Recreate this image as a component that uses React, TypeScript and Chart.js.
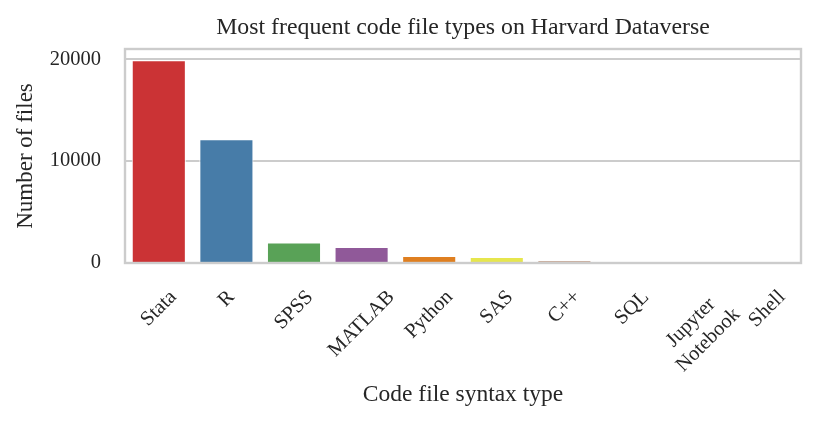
import React, { useEffect, useRef } from "react";
import { Chart, registerables } from "chart.js";

Chart.register(...registerables);

const categories = ["Stata", "R", "SPSS", "MATLAB", "Python", "SAS", "C++", "SQL", "Jupyter\nNotebook", "Shell"];
const fileCounts = [19900, 12150, 2000, 1580, 690, 590, 200, 60, 40, 30];
const barColors = ["#cb3335", "#477ca8", "#59a257", "#905999", "#df7f20", "#e6e64d", "#965a38", "#e890be", "#999999", "#cb3335"];
const yTickValues = [0, 10000, 20000];
const yMax = 21000;

const chartTitle = "Most frequent code file types on Harvard Dataverse";
const xTitle = "Code file syntax type";
const yTitle = "Number of files";

const FONT = '"Liberation Serif", "Times New Roman", Times, serif';
const TEXT = "#262626";
const GRID = "#cccccc";

const overlayPlugin = {
  id: "overlay",
  afterDatasetsDraw(chart: any) {
    const { ctx, chartArea } = chart;
    ctx.save();
    ctx.strokeStyle = GRID;
    ctx.lineWidth = 2.4;
    ctx.strokeRect(chartArea.left, chartArea.top, chartArea.right - chartArea.left, chartArea.bottom - chartArea.top);
    ctx.restore();
  },
  afterDraw(chart: any) {
    const { ctx, chartArea } = chart;
    const xs = chart.scales.x;
    ctx.save();
    ctx.fillStyle = TEXT;
    // title
    ctx.font = `23.8px ${FONT}`;
    ctx.textAlign = "center";
    ctx.textBaseline = "middle";
    ctx.fillText(chartTitle, (chartArea.left + chartArea.right) / 2, 28);
    // rotated x tick labels (centered rotated bbox, top aligned)
    const size = 20.5;
    ctx.font = `${size}px ${FONT}`;
    const lh = size * 1.2;
    const c = Math.SQRT1_2;
    const labelTop = xs.top + 23;
    categories.forEach((lab, i) => {
      const lines = lab.split("\n");
      const w = Math.max(...lines.map((l) => ctx.measureText(l).width));
      const h = (lines.length - 1) * lh + size * 1.107;
      const cx = xs.getPixelForValue(i);
      const cy = labelTop + ((w + h) * c) / 2;
      ctx.save();
      ctx.translate(cx, cy);
      ctx.rotate(-Math.PI / 4);
      lines.forEach((l, j) => {
        ctx.fillText(l, 0, (j - (lines.length - 1) / 2) * lh);
      });
      ctx.restore();
    });
    ctx.restore();
  },
};

export default function App() {
  const ref = useRef<HTMLCanvasElement>(null);
  useEffect(() => {
    if (!ref.current) return;
    const chart = new Chart(ref.current, {
      type: "bar",
      data: {
        labels: categories,
        datasets: [
          {
            data: fileCounts,
            backgroundColor: barColors,
            borderColor: "#ffffff",
            borderWidth: 1,
            borderSkipped: "bottom",
            barPercentage: 0.8,
            categoryPercentage: 1,
          },
        ],
      },
      options: {
        animation: false,
        responsive: true,
        maintainAspectRatio: false,
        layout: { padding: { top: 49, right: 30, left: 0, bottom: 0 }, autoPadding: false },
        plugins: { legend: { display: false }, title: { display: false }, tooltip: { enabled: false } },
        scales: {
          x: {
            grid: { display: false, drawTicks: false },
            border: { display: false },
            ticks: { display: false },
            title: {
              display: true,
              text: xTitle,
              color: TEXT,
              font: { family: FONT, size: 23.5 },
              padding: { top: 0, bottom: 16 },
            },
            afterFit(scale: any) {
              scale.height = 162;
            },
          },
          y: {
            min: 0,
            max: yMax,
            grid: { color: GRID, lineWidth: 2, drawTicks: false },
            border: { display: false },
            afterBuildTicks(scale: any) {
              scale.ticks = yTickValues.map((v) => ({ value: v }));
            },
            ticks: {
              color: TEXT,
              font: { family: FONT, size: 20.5 },
              padding: 24,
              callback: (v: any) => String(v),
            },
            title: {
              display: true,
              text: yTitle,
              color: TEXT,
              font: { family: FONT, size: 23 },
              padding: { top: 12.5, bottom: 0 },
            },
            afterFit(scale: any) {
              scale.width = 125;
            },
          },
        },
      },
      plugins: [overlayPlugin],
    });
    return () => chart.destroy();
  }, []);
  return (
    <div style={{ position: "absolute", left: 0, top: 0, width: 831, height: 425, background: "#fff" }}>
      <canvas ref={ref} />
    </div>
  );
}
